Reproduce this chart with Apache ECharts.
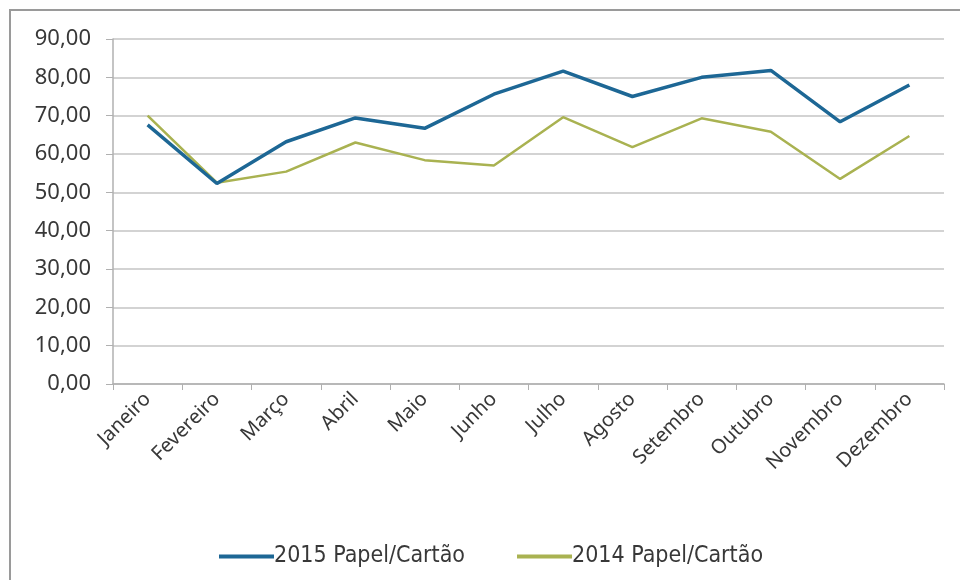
<!DOCTYPE html>
<html><head><meta charset="utf-8">
<script src="https://cdn.jsdelivr.net/npm/echarts@6/dist/echarts.min.js"></script>
<style>html,body{margin:0;padding:0;background:#fff}#c{width:960px;height:580px}</style>
</head><body><div id="c"></div>
<script>
const months = ['Janeiro','Fevereiro','Março','Abril','Maio','Junho','Julho','Agosto','Setembro','Outubro','Novembro','Dezembro'];
const s2015 = [67.6, 52.3, 63.2, 69.4, 66.7, 75.6, 81.6, 75.0, 80.0, 81.8, 68.4, 78.0];
const s2014 = [70.0, 52.5, 55.4, 63.0, 58.4, 57.0, 69.6, 61.8, 69.3, 65.8, 53.5, 64.7];
const name2015 = '2015 Papel/Cartão';
const name2014 = '2014 Papel/Cartão';
const font = "'DejaVu Sans Condensed','Noto Sans',sans-serif";
const font2 = "'Noto Sans',sans-serif";
const chart = echarts.init(document.getElementById('c'));
chart.setOption({
  animation: false,
  graphic: [{type:'rect', shape:{x:10,y:10,width:960,height:600}, style:{fill:'none', stroke:'#9a9a9a', lineWidth:2}}],
  grid: {left:113, right:16, top:39, bottom:196},
  legend: {top:540, left:214, itemWidth:55, itemHeight:4, itemGap:52, icon:'rect',
    textStyle:{fontFamily:font, fontSize:23, color:'#383838', padding:[0,0,0,-5]},
    data:[name2015, name2014]},
  xAxis: {type:'category', data: months, boundaryGap:true,
    axisLine:{lineStyle:{color:'#b0b0b0', width:1.5}},
    axisTick:{show:true, length:6, lineStyle:{color:'#b0b0b0'}},
    axisLabel:{rotate:45, fontFamily:font2, fontSize:20, color:'#383838', margin:12, interval:0}},
  yAxis: {type:'value', min:0, max:90, interval:10,
    axisLine:{show:true, lineStyle:{color:'#b0b0b0', width:1.5}},
    axisTick:{show:true, length:7, lineStyle:{color:'#b0b0b0'}},
    splitLine:{lineStyle:{color:'#c4c4c4', width:1.5}},
    axisLabel:{fontFamily:font2, fontSize:22, color:'#383838', margin:22,
      formatter: v => v.toFixed(2).replace('.', ',')}},
  series: [
    {name:name2014, type:'line', data:s2014, symbol:'none', z:2,
      lineStyle:{color:'#a9b251', width:2.5}, itemStyle:{color:'#a9b251'}},
    {name:name2015, type:'line', data:s2015, symbol:'none', z:3,
      lineStyle:{color:'#1d6795', width:3.5}, itemStyle:{color:'#1d6795'}}
  ]
});
</script></body></html>
